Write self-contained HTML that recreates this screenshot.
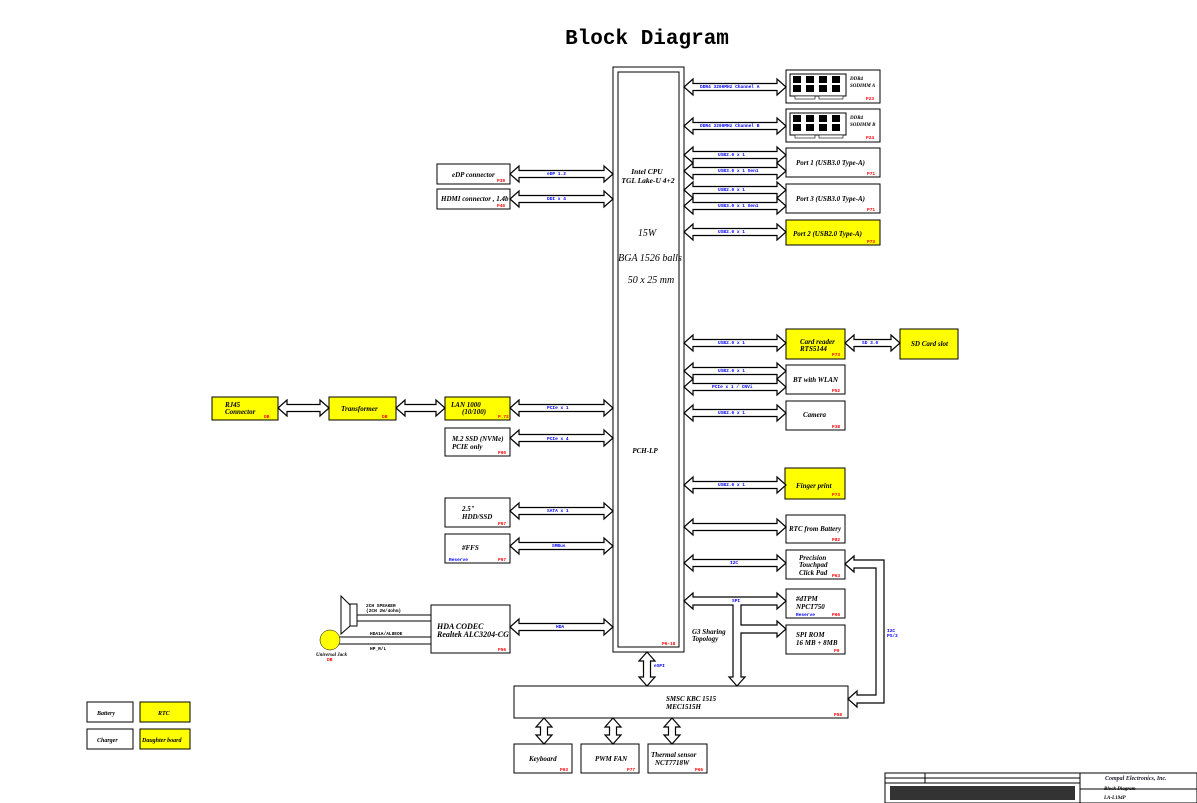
<!DOCTYPE html>
<html><head><meta charset="utf-8"><style>
body{margin:0;background:#fff;width:1197px;height:803px;overflow:hidden}
svg{display:block}
text{font-family:"Liberation Serif",serif;font-style:italic;font-weight:bold;font-size:7px;fill:#000}
.t{font-family:"Liberation Mono",monospace;font-style:normal;font-size:21px}
g.b text,.b{font-family:"Liberation Mono",monospace;font-style:normal;font-size:4.5px;fill:#00f}
.k{font-family:"Liberation Mono",monospace;font-style:normal;font-size:4.5px;fill:#000}
.r{font-family:"Liberation Mono",monospace;font-style:normal;font-size:4.5px;fill:#f00}
.n{font-weight:normal;font-size:10px}
rect{stroke:#000;stroke-width:1;fill:#fff}
.y{fill:#ffff00}
.c{fill:#000;stroke:none}
</style></head><body>
<svg id="s" width="1197" height="803" xmlns="http://www.w3.org/2000/svg">
<text class="t" x="647" y="44" text-anchor="middle">Block Diagram</text>
<rect x="613" y="67" width="71" height="585"/>
<rect x="618" y="72" width="61" height="575"/>
<text x="647" y="174" text-anchor="middle" style="font-size:7.5px">Intel  CPU</text>
<text x="648" y="183" text-anchor="middle" style="font-size:7.5px">TGL Lake-U 4+2</text>
<text x="647" y="236" text-anchor="middle" class="n">15W</text>
<text x="650" y="261" text-anchor="middle" class="n">BGA 1526 balls</text>
<text x="651" y="283" text-anchor="middle" class="n">50 x 25 mm</text>
<text x="645" y="453" text-anchor="middle">PCH-LP</text>
<text class="r" x="662" y="645">P6-18</text>

<rect x="786" y="70" width="94" height="33"/>
<rect x="790" y="74" width="56" height="22"/>
<text x="850" y="80" style="font-size:5px">DDR4</text><text x="850" y="87" style="font-size:5px">SODIMM A</text><text class="r" x="866" y="100">P23</text>
<rect x="786" y="109" width="94" height="33"/>
<rect x="790" y="113" width="56" height="22"/>
<text x="850" y="119" style="font-size:5px">DDR4</text><text x="850" y="126" style="font-size:5px">SODIMM B</text><text class="r" x="866" y="139">P24</text>
<rect x="786" y="148" width="94" height="29"/><text x="796" y="165">Port 1 (USB3.0 Type-A)</text><text class="r" x="867" y="175">P71</text>
<rect x="786" y="184" width="94" height="29"/><text x="796" y="201">Port 3 (USB3.0 Type-A)</text><text class="r" x="867" y="211">P71</text>
<rect class="y" x="786" y="220" width="94" height="25"/><text x="793" y="236">Port 2 (USB2.0 Type-A)</text><text class="r" x="867" y="243">P73</text>
<rect class="y" x="786" y="329" width="59" height="30"/><text x="800" y="344">Card reader</text><text x="800" y="351">RTS5144</text><text class="r" x="832" y="356">P73</text>
<rect class="y" x="900" y="329" width="58" height="30"/><text x="911" y="346">SD Card slot</text>
<rect x="786" y="365" width="59" height="29"/><text x="793" y="382">BT with WLAN</text><text class="r" x="832" y="392">P52</text>
<rect x="786" y="401" width="59" height="29"/><text x="803" y="417">Camera</text><text class="r" x="832" y="428">P38</text>
<rect class="y" x="785" y="468" width="60" height="31"/><text x="796" y="488">Finger print</text><text class="r" x="832" y="496">P73</text>
<rect x="786" y="515" width="59" height="28"/><text x="789" y="531">RTC from Battery</text><text class="r" x="832" y="541">P82</text>
<rect x="786" y="550" width="59" height="29"/><text x="799" y="560">Precision</text><text x="799" y="567">Touchpad</text><text x="799" y="575">Click Pad</text><text class="r" x="832" y="577">P63</text>
<rect x="786" y="589" width="59" height="29"/><text x="796" y="601">#dTPM</text><text x="796" y="609">NPCT750</text><text class="b" x="796" y="616">Reserve</text><text class="r" x="832" y="616">P66</text>
<rect x="786" y="625" width="59" height="29"/><text x="796" y="637">SPI ROM</text><text x="796" y="645">16 MB + 8MB</text><text class="r" x="834" y="652">P9</text>

<rect x="437" y="164" width="73" height="20"/><text x="452" y="177">eDP connector</text><text class="r" x="497" y="182">P39</text>
<rect x="437" y="189" width="73" height="20"/><text x="441" y="201">HDMI connector , 1.4b</text><text class="r" x="497" y="207">P40</text>
<rect class="y" x="212" y="397" width="66" height="23"/><text x="225" y="407">RJ45</text><text x="225" y="414">Connector</text><text class="r" x="264" y="418">DB</text>
<rect class="y" x="329" y="397" width="67" height="23"/><text x="341" y="411">Transformer</text><text class="r" x="382" y="418">DB</text>
<rect class="y" x="445" y="397" width="65" height="23"/><text x="451" y="407">LAN 1000</text><text x="462" y="414">(10/100)</text><text class="r" x="498" y="418">P.72</text>
<rect x="445" y="428" width="65" height="28"/><text x="452" y="441">M.2 SSD (NVMe)</text><text x="452" y="449">PCIE only</text><text class="r" x="498" y="454">P60</text>
<rect x="445" y="498" width="65" height="29"/><text x="462" y="511">2.5"</text><text x="462" y="519">HDD/SSD</text><text class="r" x="498" y="525">P67</text>
<rect x="445" y="534" width="65" height="29"/><text x="462" y="550">#FFS</text><text class="b" x="449" y="561">Reserve</text><text class="r" x="498" y="561">P67</text>
<rect x="431" y="605" width="79" height="48"/><text x="437" y="629" style="font-size:8px">HDA CODEC</text><text x="437" y="637" style="font-size:8px">Realtek ALC3204-CG</text><text class="r" x="498" y="651">P56</text>
<polygon points="341,596 350,605 350,626 341,634" fill="#fff" stroke="#000"/>
<rect x="350" y="604" width="7" height="22"/>
<line x1="357" y1="615" x2="431" y2="615" stroke="#000"/><line x1="357" y1="621" x2="431" y2="621" stroke="#000"/>
<line x1="338" y1="637" x2="431" y2="637" stroke="#000"/><line x1="338" y1="644" x2="431" y2="644" stroke="#000"/>
<circle cx="330" cy="640" r="10" fill="#ffff00" stroke="#000" stroke-width="0.5"/>
<text class="k" x="366" y="607">2CH SPEAKER</text><text class="k" x="366" y="612">(2CH 2W/4ohm)</text>
<text class="k" x="370" y="635">HDA1A/AL8EOE</text><text class="k" x="370" y="650">HP_R/L</text>
<text x="316" y="656" style="font-size:5px">Universal Jack</text><text class="r" x="327" y="661">DB</text>

<rect x="514" y="686" width="334" height="32"/><text x="666" y="701">SMSC KBC 1515</text><text x="666" y="709">MEC1515H</text><text class="r" x="834" y="716">P58</text>
<rect x="514" y="744" width="58" height="29"/><text x="529" y="761">Keyboard</text><text class="r" x="560" y="771">P63</text>
<rect x="581" y="744" width="58" height="29"/><text x="595" y="761">PWM FAN</text><text class="r" x="627" y="771">P77</text>
<rect x="648" y="744" width="59" height="29"/><text x="651" y="757">Thermal sensor</text><text x="655" y="765">NCT7718W</text><text class="r" x="695" y="771">P66</text>
<text x="692" y="634">G3 Sharing</text><text x="692" y="641">Topology</text>

<rect x="87" y="702" width="46" height="20"/><text x="97" y="715" style="font-size:6px">Battery</text>
<rect class="y" x="140" y="702" width="50" height="20"/><text x="158" y="715" style="font-size:6px">RTC</text>
<rect x="87" y="729" width="46" height="20"/><text x="97" y="742" style="font-size:6px">Charger</text>
<rect class="y" x="140" y="729" width="50" height="20"/><text x="142" y="742" style="font-size:6px">Daughter board</text>

<rect x="885" y="773" width="312" height="30"/>
<line x1="1080" y1="773" x2="1080" y2="803" stroke="#000"/>
<line x1="885" y1="778" x2="1080" y2="778" stroke="#000"/><line x1="885" y1="783" x2="1080" y2="783" stroke="#000"/>
<line x1="925" y1="773" x2="925" y2="783" stroke="#000"/>
<rect x="890" y="786" width="185" height="14" style="fill:#333;stroke:none"/>
<line x1="1080" y1="789" x2="1197" y2="789" stroke="#000"/>
<text x="1105" y="780" style="font-size:6px;fill:#223">Compal Electronics, Inc.</text>
<text x="1104" y="790" style="font-size:5px">Block Diagram</text>
<text x="1104" y="799" style="font-size:5px">LA-L194P</text>

<g id="ar" fill="#fff" stroke="#000" stroke-width="1.2"></g>
<g id="chips"></g>
<g class="b">
<text x="700" y="88">DDR4 3200MHz Channel A</text>
<text x="700" y="127">DDR4 3200MHz Channel B</text>
<text x="718" y="156">USB2.0 x 1</text><text x="718" y="172">USB3.0 x 1 Gen1</text>
<text x="718" y="191">USB2.0 x 1</text><text x="718" y="207">USB3.0 x 1 Gen1</text>
<text x="718" y="233">USB2.0 x 1</text>
<text x="718" y="344">USB2.0 x 1</text><text x="862" y="344">SD 3.0</text>
<text x="718" y="372">USB2.0 x 1</text><text x="712" y="388">PCIe x 1 / CNVi</text>
<text x="718" y="414">USB2.0 x 1</text><text x="718" y="486">USB2.0 x 1</text>
<text x="730" y="564">I2C</text><text x="732" y="602">SPI</text>
<text x="547" y="175">eDP 1.2</text><text x="547" y="200">DDI x 4</text>
<text x="547" y="409">PCIe x 1</text><text x="547" y="440">PCIe x 4</text>
<text x="547" y="512">SATA x 1</text><text x="552" y="547">SMBus</text>
<text x="556" y="628">HDA</text><text x="654" y="667">eSPI</text>
<text x="887" y="632">I2C</text><text x="887" y="637">PS/2</text>
</g>
</svg>
<script>
var g=document.getElementById('ar'),h='';
function H(a,b,y,l,r){var t=3.5,w=8,L=9;var x1=a+(l?L:0),x2=b-(r?L:0);var p=[];
p.push([x1,y-t],[x2,y-t]);if(r){p.push([x2,y-w],[b,y],[x2,y+w]);}else p.push([x2,y+t]);
p.push([x2,y+t],[x1,y+t]);if(l){p.push([x1,y+w],[a,y],[x1,y-w]);}else p.push([x1,y-t]);
h+='<polygon points="'+p.map(q=>q.join(',')).join(' ')+'"/>';}
function V(x,a,b,u,d){var t=3.5,w=8,L=9;var y1=a+(u?L:0),y2=b-(d?L:0),p=[];
p.push([x-t,y1],[x-t,y2]);if(d)p.push([x-w,y2],[x,b],[x+w,y2]);p.push([x+t,y2],[x+t,y1]);if(u)p.push([x+w,y1],[x,a],[x-w,y1]);
h+='<polygon points="'+p.map(q=>q.join(',')).join(' ')+'"/>';}
[87,126,155,171,190,206,232,343,371,387,413,485,527,563].forEach(y=>H(684,786,y,1,1));
H(845,900,343,1,1);
[174,199,408,438,511,546,627].forEach(y=>H(510,613,y,1,1));
H(278,329,408,1,1);H(396,445,408,1,1);
V(647,652,686,1,1);V(544,718,744,1,1);V(613,718,744,1,1);V(672,718,744,1,1);
h+='<polygon points="693,597 777,597 777,593 786,601 777,609 777,605 741,605 741,625 777,625 777,621 786,629 777,637 777,633 741,633 741,677 745,677 737,686 729,677 733,677 733,605 693,605 693,609 684,601 693,593"/>';
h+='<polygon points="854,556 854,560 884,560 884,703 857,703 857,707 848,699 857,691 857,695 876,695 876,568 854,568 854,572 845,564"/>';
g.innerHTML=h;
var c='';[74,113].forEach(function(y0){for(var i=0;i<4;i++){for(var j=0;j<2;j++){c+='<rect class="c" x="'+(793+i*13)+'" y="'+(y0+2+j*9)+'" width="8" height="7"/>';}}
c+='<rect x="795" y="'+(y0+22)+'" width="20" height="3" style="fill:#fff;stroke:#000;stroke-width:.6"/><rect x="819" y="'+(y0+22)+'" width="24" height="3" style="fill:#fff;stroke:#000;stroke-width:.6"/>';});
document.getElementById('chips').innerHTML=c;
</script>
</body></html>
